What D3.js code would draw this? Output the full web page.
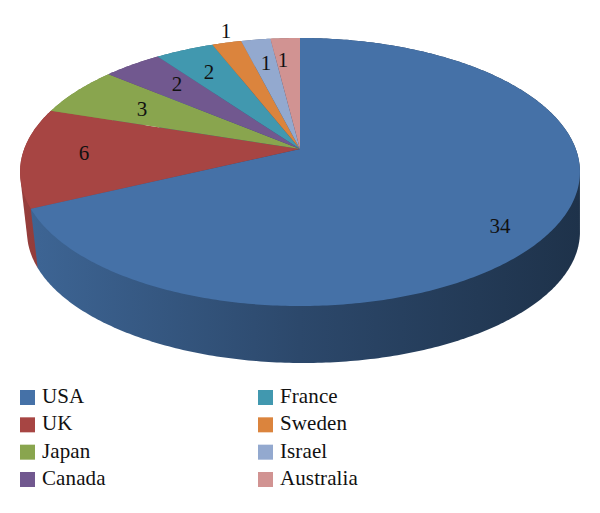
<!DOCTYPE html>
<html><head><meta charset="utf-8">
<script src="https://cdn.jsdelivr.net/npm/d3@7"></script>
<style>html,body{margin:0;padding:0;background:#fff}svg{display:block}text{font-family:"Liberation Serif",serif;fill:#111}</style>
</head><body><svg id="c" width="600" height="513"></svg>
<script>
const countries = ["USA","UK","Japan","Canada","France","Sweden","Israel","Australia"];
const counts = [34,6,3,2,2,1,1,1];
const colors = ["#4571a7","#a74543","#89a54e","#71588f","#4198af","#db843d","#93a9cf","#d19392"];

// label nudges relative to the projected mid-slice point
const labelNudge = [[12.5,21],[-8,-2],[12.6,4.3],[6.4,0],[-1.5,0],[-17,-35.4],[0.4,-1],[-5.5,-2.7]];

const cx = 300, hubY = 149, persp = -0.1716, K = 275.8, A = 104.5;

function project(theta, r = 1) {
  const u = r * Math.sin(theta), v = -r * Math.cos(theta), w = 1 + persp * v;
  return [cx + K * u / w, (A * v + hubY) / w];
}
// underside ellipse of the disc: slightly narrower and shifted right
const lower = ([x, y]) => [303.5 + (x - cx) * 0.9875, 232 + (y - 172) * 0.9776];

const svg = d3.select("#c");
const arcs = d3.pie().sort(null).value(d => d)(counts);

const defs = svg.append("defs");
arcs.forEach((d, i) => {
  const base = d3.rgb(colors[i]);
  const g = defs.append("linearGradient").attr("id", "side" + i)
    .attr("gradientUnits", "userSpaceOnUse")
    .attr("x1", 20).attr("x2", 580).attr("y1", 0).attr("y2", 0);
  g.append("stop").attr("offset", 0).attr("stop-color", base.darker(0.3));
  g.append("stop").attr("offset", 0.5).attr("stop-color", base.darker(1.25));
  g.append("stop").attr("offset", 1).attr("stop-color", base.darker(2.3));
});

const line = d3.line();
function rim(d) {
  const n = Math.max(2, Math.ceil((d.endAngle - d.startAngle) * 80));
  return d3.range(n + 1).map(k => project(d.startAngle + (d.endAngle - d.startAngle) * k / n));
}

// side walls, farthest first so the biggest slice's wall sits in front
const gSide = svg.append("g");
arcs.slice().reverse().forEach(d => {
  const top = rim(d);
  const hull = d3.polygonHull(top.concat(top.map(lower)));
  gSide.append("path").attr("d", line(hull) + "Z")
    .attr("fill", `url(#side${d.index})`);
});

// top faces
svg.append("g").selectAll("path").data(arcs).join("path")
  .attr("d", d => line([[cx, hubY]].concat(rim(d))) + "Z")
  .attr("fill", (d, i) => colors[i]);

// value labels
svg.append("g").selectAll("text").data(arcs).join("text")
  .attr("x", (d, i) => project((d.startAngle + d.endAngle) / 2, 0.75)[0] + labelNudge[i][0])
  .attr("y", (d, i) => project((d.startAngle + d.endAngle) / 2, 0.75)[1] + labelNudge[i][1])
  .attr("dy", "0.34em").attr("text-anchor", "middle")
  .attr("font-size", 21).text(d => d.value);

// legend
const legX = d3.scalePoint().domain([0, 1]).range([20, 258]);
const legY = d3.scalePoint().domain([0, 1, 2, 3]).range([390, 472]);
const leg = svg.append("g").selectAll("g").data(countries).join("g")
  .attr("transform", (d, i) => `translate(${legX(Math.floor(i / 4))},${legY(i % 4)})`);
leg.append("rect").attr("width", 15).attr("height", 15).attr("fill", (d, i) => colors[i]);
leg.append("text").attr("x", 22).attr("y", 13).attr("font-size", 21).attr("letter-spacing", 0.1).text(d => d);
</script></body></html>
